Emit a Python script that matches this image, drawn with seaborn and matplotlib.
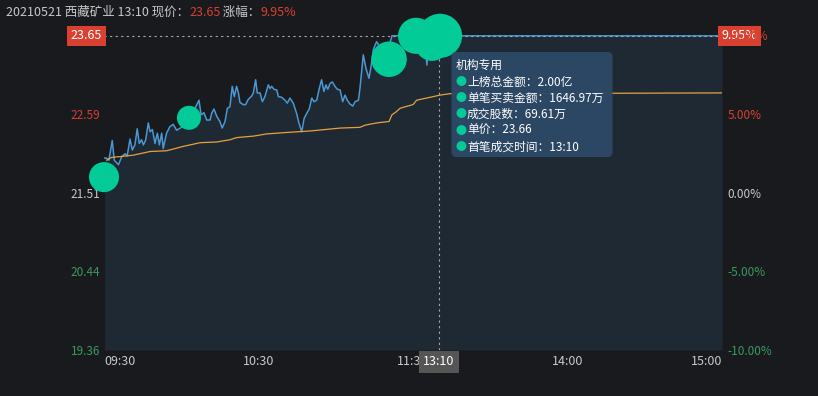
import numpy as np
import pandas as pd
import matplotlib.pyplot as plt
import matplotlib.transforms as mtransforms
from matplotlib.patches import FancyBboxPatch
import seaborn as sns

# ---------------- data ----------------
PREV_CLOSE = 21.51
LIMIT_PRICE = 23.65

# minute index of the trading day (0 = 09:30, 120 = 11:30/13:00, 240 = 15:00)
PRICE_MIN = [0.2, 1.0, 1.9, 3.2, 4.0, 5.6, 6.9, 8.2, 9.0, 10.1, 11.0, 12.0, 12.9, 13.7,
             14.6, 15.3, 16.2, 17.2, 17.9, 18.8, 19.8, 20.7, 21.5, 22.4, 23.0, 24.3,
             25.6, 26.9, 28.2, 31.0, 34.5, 36.9, 37.7, 38.8, 39.9, 41.2, 41.8, 42.7,
             43.8, 45.0, 45.9, 47.0, 47.9, 48.9, 49.8, 50.6, 51.5, 52.2, 52.8, 54.1,
             55.0, 56.0, 57.4, 58.0, 58.9, 59.5, 60.6, 61.5, 62.5, 63.8, 64.5, 65.1,
             66.0, 67.1, 67.7, 69.0, 70.3, 71.2, 72.2, 73.5, 74.8, 75.7, 76.8, 77.7,
             78.7, 79.7, 80.7, 81.6, 82.6, 83.6, 84.5, 85.4, 86.2, 86.9, 87.8, 88.7,
             89.7, 90.6, 91.7, 92.7, 93.6, 94.5, 95.5, 96.6, 97.5, 98.8, 99.4, 100.7,
             101.7, 102.9, 103.7, 104.6, 105.6, 105.9, 108.0, 110.0, 111.3, 111.8,
             124.5, 125.4, 126.3, 240.0]
PRICE = [21.98, 21.98, 21.95, 22.22, 21.95, 21.89, 22.00, 22.04, 22.01, 22.24, 22.09,
         22.16, 22.38, 22.18, 22.23, 22.16, 22.23, 22.46, 22.34, 22.37, 22.18, 22.32,
         22.16, 22.32, 22.11, 22.32, 22.41, 22.44, 22.36, 22.42, 22.60, 22.77, 22.57,
         22.60, 22.50, 22.50, 22.59, 22.65, 22.55, 22.48, 22.39, 22.48, 22.66, 22.68,
         22.96, 22.82, 22.96, 22.87, 22.74, 22.71, 22.71, 22.78, 22.83, 22.87, 23.05,
         22.87, 22.87, 22.75, 22.82, 22.98, 22.93, 22.96, 22.92, 22.91, 22.82, 22.81,
         22.77, 22.73, 22.80, 22.73, 22.59, 22.46, 22.34, 22.52, 22.59, 22.65, 22.80,
         22.75, 22.77, 22.93, 23.05, 22.89, 22.98, 22.92, 23.00, 23.02, 22.96, 22.92,
         22.91, 22.75, 22.84, 22.77, 22.72, 22.69, 22.75, 22.77, 22.93, 23.39, 23.21,
         23.07, 23.23, 23.46, 23.55, 23.57, 23.45, 23.50, 23.58, 23.65, 23.65, 23.25,
         23.65, 23.65]

AVG_MIN = [1.0, 3.0, 6.2, 11.4, 17.9, 24.3, 30.8, 37.3, 43.8, 48.9, 51.5, 58.0, 63.2,
           71.0, 80.0, 91.7, 99.4, 101.4, 105.9, 110.7, 111.8, 113.4, 115.0, 116.9,
           120.0, 121.4, 123.9, 126.6, 130.5, 134.4, 146.0, 240.0]
AVG = [21.95, 21.99, 22.00, 22.02, 22.07, 22.08, 22.14, 22.19, 22.20, 22.23, 22.26,
       22.28, 22.31, 22.33, 22.35, 22.39, 22.40, 22.43, 22.46, 22.48, 22.57, 22.61,
       22.66, 22.68, 22.71, 22.77, 22.79, 22.81, 22.84, 22.86, 22.86, 22.87]

# institution trades (bubbles): minute, price, amount (万元, estimated)
TRADE_MIN = [0.0, 33.0, 110.7, 121.2, 127.4, 130.5]
TRADE_PRICE = [21.72, 22.53, 23.33, 23.65, 23.54, 23.65]
TRADE_AMT = [766, 490, 1066, 1103, 983, 1646.97]

X_TICKS = [0, 60, 120, 180, 240]
X_LABELS = ['09:30', '10:30', '11:30', '14:00', '15:00']
LEFT_LABELS = ['19.36', '20.44', '21.51', '22.59', '23.66']
RIGHT_LABELS = ['-10.00%', '-5.00%', '0.00%', '5.00%', '10.00%']

TITLE_PARTS = ['20210521 西藏矿业 13:10 现价：', '23.65', ' 涨幅：', '9.95%']
TIP_TITLE = '机构专用'
TIP_LINES = ['上榜总金额：2.00亿', '单笔买卖金额：1646.97万', '成交股数：69.61万',
             '单价：23.66', '首笔成交时间：13:10']
CROSS_MIN = 130
CROSS_TIME = '13:10'
CROSS_PCT = '9.95%'

# ---------------- style ----------------
BG = '#181a1e'
FILL = '#1f2934'
RED = '#d9402f'
GREEN = '#3a9a5c'
GRAY = '#c8c8c8'
BLUE = '#4a97d3'
ORANGE = '#e6a23c'
BUBBLE = '#02cb97'

sns.set_style('dark', {'axes.facecolor': BG, 'figure.facecolor': BG})
plt.rcParams['font.family'] = ['Noto Sans CJK SC', 'DejaVu Sans']
plt.rcParams['axes.unicode_minus'] = False

W, H = 818, 396
fig = plt.figure(figsize=(W / 100, H / 100), dpi=100)
fig.patch.set_facecolor(BG)
ax = fig.add_axes([104 / W, 1 - 350 / H, (722 - 104) / W, (350 - 35) / H])
ax.set_facecolor('none')

ymin, ymax = PREV_CLOSE * 0.9, PREV_CLOSE * 1.1

price_df = pd.DataFrame({'t': PRICE_MIN, 'price': PRICE})
avg_df = pd.DataFrame({'t': AVG_MIN, 'avg': AVG})
trade_df = pd.DataFrame({'t': TRADE_MIN, 'price': TRADE_PRICE, 'amt': TRADE_AMT})

ax.fill_between(price_df['t'], price_df['price'], ymin, color=FILL, lw=0, zorder=1)
sns.lineplot(data=price_df, x='t', y='price', ax=ax, color=BLUE, lw=1.1, zorder=3)
sns.lineplot(data=avg_df, x='t', y='avg', ax=ax, color=ORANGE, lw=0.9, zorder=3)

# crosshair
ax.axvline(CROSS_MIN, color='#a8a8a8', lw=0.8, ls=(0, (2, 3)), zorder=4)
ax.axhline(LIMIT_PRICE, color='#a8a8a8', lw=0.8, ls=(0, (2, 3)), zorder=4)

sns.scatterplot(data=trade_df, x='t', y='price', size='amt', sizes=(0, 1010),
                size_norm=(0, max(TRADE_AMT)), color=BUBBLE, edgecolor='none',
                legend=False, ax=ax, zorder=5, clip_on=False)

ax.set_xlim(0, 240)
ax.set_ylim(ymin, ymax)
for s in ax.spines.values():
    s.set_visible(False)
ax.set_xlabel('')
ax.set_ylabel('')

ax.set_xticks(X_TICKS, X_LABELS)
ax.tick_params(axis='x', length=0, pad=3.5, labelsize=9, colors=GRAY)
xl = ax.get_xticklabels()
xl[0].set_ha('left')
xl[-1].set_ha('right')

yt = np.linspace(ymin, ymax, 5)
ax.set_yticks(yt, LEFT_LABELS)
ax.tick_params(axis='y', length=0, pad=3, labelsize=8.5)
lcol = [GREEN, GREEN, GRAY, RED, RED]
for lab, c in zip(ax.get_yticklabels(), lcol):
    lab.set_color(c)

ax2 = ax.twinx()
ax2.set_ylim((ymin / PREV_CLOSE - 1) * 100, (ymax / PREV_CLOSE - 1) * 100)
ax2.set_yticks([-10, -5, 0, 5, 10], RIGHT_LABELS)
ax2.tick_params(axis='y', length=0, pad=4, labelsize=8.5)
for lab, c in zip(ax2.get_yticklabels(), lcol):
    lab.set_color(c)
for s in ax2.spines.values():
    s.set_visible(False)
ax2.grid(False)
ax.grid(False)

# value boxes on the axes
blend_l = mtransforms.blended_transform_factory(ax.transAxes, ax.transData)
ax.text(-0.003, LIMIT_PRICE, f'{LIMIT_PRICE:.2f}', transform=blend_l, ha='right', va='center',
        color='white', fontsize=9, zorder=10, clip_on=False,
        bbox=dict(boxstyle='square,pad=0.3', fc=RED, ec='none'))
ax.text(1.0, LIMIT_PRICE, CROSS_PCT, transform=blend_l, ha='left', va='center',
        color='white', fontsize=9, zorder=10, clip_on=False,
        bbox=dict(boxstyle='square,pad=0.3', fc=RED, ec='none'))
blend_b = mtransforms.blended_transform_factory(ax.transData, ax.transAxes)
ax.text(CROSS_MIN, -0.037, CROSS_TIME, transform=blend_b, ha='center', va='center',
        color='white', fontsize=9, zorder=10, clip_on=False,
        bbox=dict(boxstyle='square,pad=0.35', fc='#555555', ec='none'))

# title
def fx(x):
    return x / W


def fy(y):
    return 1 - y / H


t = fig.text(fx(6), fy(12), TITLE_PARTS[0], color=GRAY, fontsize=9, va='center')
for i, part in enumerate(TITLE_PARTS[1:]):
    t = fig.text(0, 0, part, color=RED if i % 2 == 0 else GRAY, fontsize=9, va='center')
    fig.canvas.draw()
    prev = fig.texts[-2].get_window_extent()
    t.set_position((prev.x1 / W, fy(12)))

# tooltip
tip = FancyBboxPatch((451.5, H - 157), 161, 105, boxstyle='round,pad=0,rounding_size=5',
                     transform=mtransforms.IdentityTransform(), fc='#2d4966', ec='none',
                     alpha=0.97, zorder=20)
fig.patches.append(tip)
fig.text(fx(456), fy(65), TIP_TITLE, color='white', fontsize=8.5, va='center', zorder=21)
for i, line in enumerate(TIP_LINES):
    yy = 82 + i * 16.2
    fig.text(fx(456), fy(yy), '●', color=BUBBLE, fontsize=8, va='center', zorder=21)
    fig.text(fx(467), fy(yy), line, color='white', fontsize=8.5, va='center', zorder=21)

fig.savefig('out.png', dpi=100, facecolor=BG)
